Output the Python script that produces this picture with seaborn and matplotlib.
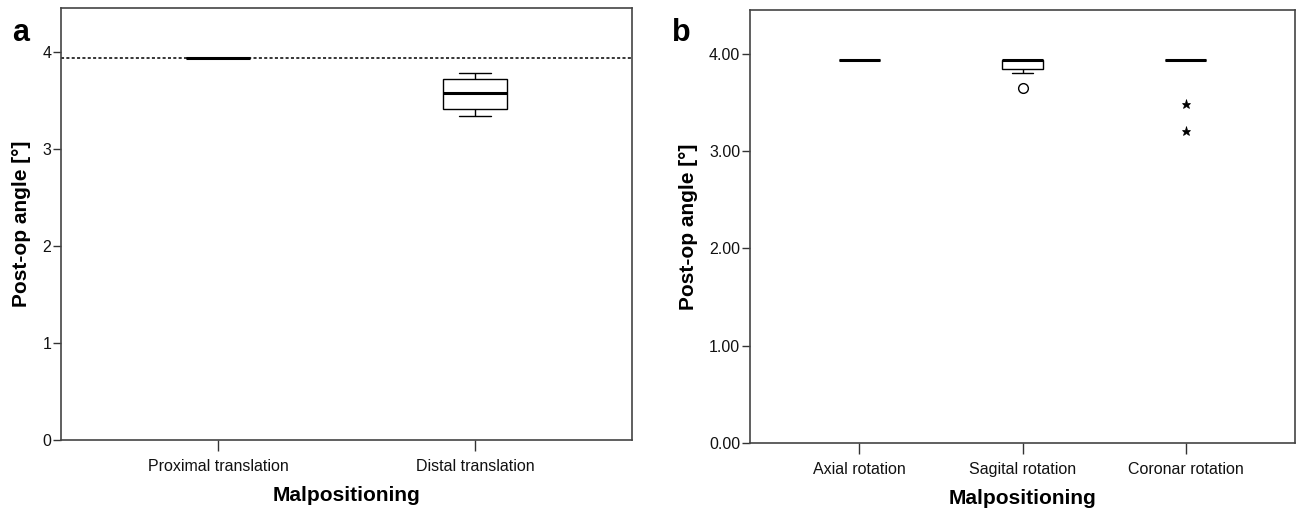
import pandas as pd
import matplotlib.pyplot as plt
import seaborn as sns

sns.set_theme(style="ticks")
plt.rcParams["font.family"] = ["Liberation Sans", "DejaVu Sans"]
plt.rcParams["text.color"] = "black"
plt.rcParams["axes.labelcolor"] = "black"

# panel a: translation groups
trans_groups = ["Proximal translation", "Distal translation"]
proximal_vals = [3.94, 3.94, 3.94, 3.94, 3.94]
distal_vals = [3.34, 3.41, 3.57, 3.72, 3.78]
ref_angle = 3.94

# panel b: rotation groups
rot_groups = ["Axial rotation", "Sagital rotation", "Coronar rotation"]
axial_vals = [3.94, 3.94, 3.94, 3.94, 3.94]
sagital_vals = [3.65, 3.80, 3.84, 3.88, 3.94, 3.94, 3.94, 3.94, 3.94]
coronar_vals = [3.21, 3.48, 3.94, 3.94, 3.94, 3.94, 3.94, 3.94, 3.94]

yticks_a = [0, 1, 2, 3, 4]
ytick_labels_a = ["0", "1", "2", "3", "4"]
yticks_b = [0, 1, 2, 3, 4]
ytick_labels_b = ["0.00", "1.00", "2.00", "3.00", "4.00"]

df_a = pd.DataFrame({
    "group": [trans_groups[0]] * len(proximal_vals) + [trans_groups[1]] * len(distal_vals),
    "angle": proximal_vals + distal_vals,
})
df_b1 = pd.DataFrame({
    "group": [rot_groups[0]] * len(axial_vals) + [rot_groups[1]] * len(sagital_vals),
    "angle": axial_vals + sagital_vals,
})
df_b2 = pd.DataFrame({"group": [rot_groups[2]] * len(coronar_vals), "angle": coronar_vals})

fig = plt.figure(figsize=(12.99, 5.09), dpi=100)
ax_a = fig.add_axes([0.047, 0.1356, 0.4395, 0.8487])
ax_b = fig.add_axes([0.5774, 0.1297, 0.4196, 0.8507])

box_kw = dict(x="group", y="angle", color="white", linecolor="black", linewidth=1.0,
              width=0.25, medianprops=dict(linewidth=2.2, color="black"))

sns.boxplot(data=df_a, order=trans_groups, ax=ax_a,
            flierprops=dict(marker="o", markersize=7, markerfacecolor="white"), **box_kw)
ax_a.axhline(ref_angle, color="black", linewidth=1.1, linestyle=(0, (2, 1.5)), zorder=0)

# sagital outliers drawn as circles, coronar extremes as stars (SPSS style)
sns.boxplot(data=df_b1, order=rot_groups, ax=ax_b,
            flierprops=dict(marker="o", markersize=7, markerfacecolor="white",
                            markeredgecolor="black"), **box_kw)
sns.boxplot(data=df_b2, order=rot_groups, ax=ax_b,
            flierprops=dict(marker="*", markersize=6.5, markerfacecolor="black",
                            markeredgecolor="black", markeredgewidth=0.5), **box_kw)

for ax, yt, ytl, xl in [(ax_a, yticks_a, ytick_labels_a, (-0.61, 1.61)),
                        (ax_b, yticks_b, ytick_labels_b, (-0.67, 2.67))]:
    ax.set_ylim(0, 4.45)
    ax.set_xlim(*xl)
    ax.set_yticks(yt)
    ax.set_yticklabels(ytl)
    ax.set_xlabel("Malpositioning", fontsize=15, fontweight="bold", labelpad=8)
    ax.set_ylabel("Post-op angle [°]", fontsize=15, fontweight="bold", labelpad=8)
    ax.tick_params(axis="y", length=6, width=1, color="#333333", labelsize=11.5,
                   labelcolor="#111111", pad=1)
    ax.tick_params(axis="x", length=8, width=1, color="#333333", labelsize=11.5,
                   labelcolor="#111111", pad=6)
    for s in ax.spines.values():
        s.set_visible(True)
        s.set_color("#444444")
        s.set_linewidth(1.2)
    ax.grid(False)

fig.text(0.009, 0.965, "a", fontsize=22, fontweight="bold", va="top")
fig.text(0.517, 0.965, "b", fontsize=22, fontweight="bold", va="top")

plt.savefig("out.png", dpi=100)
